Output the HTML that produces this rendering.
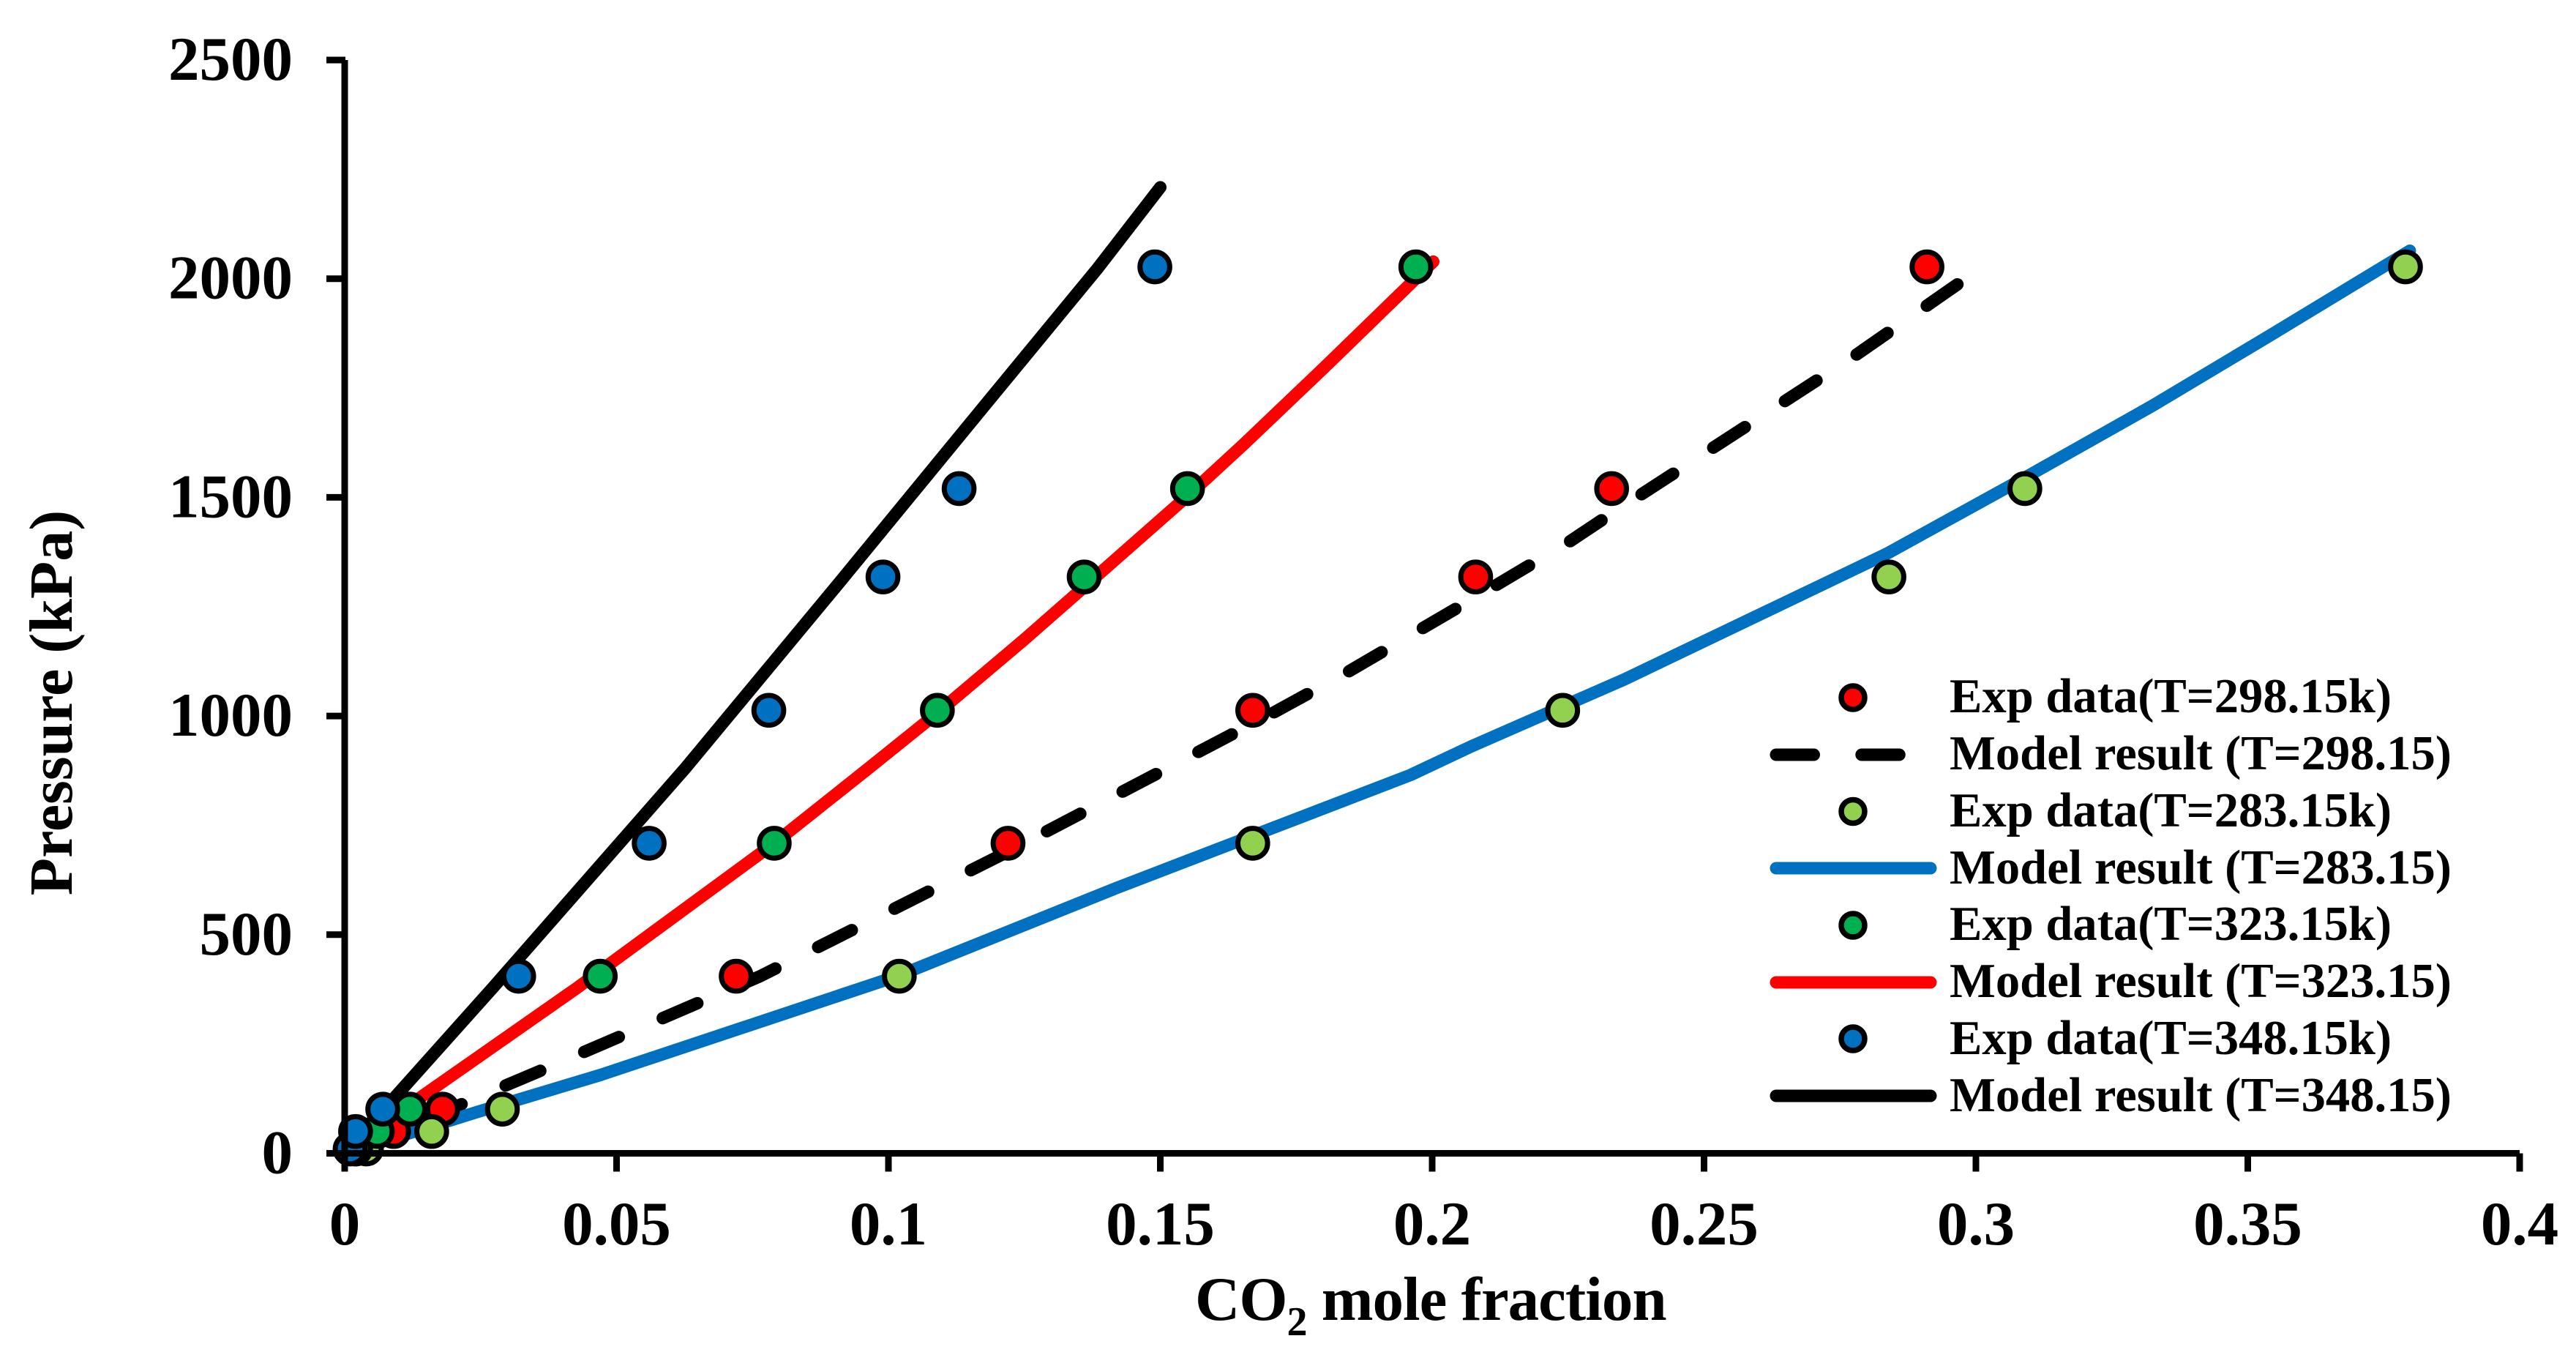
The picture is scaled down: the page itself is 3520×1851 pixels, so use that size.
<!DOCTYPE html>
<html>
<head>
<meta charset="utf-8">
<title>Pressure vs CO2 mole fraction</title>
<style>
html,body{margin:0;padding:0;background:#fff;}
svg{display:block;font-family:"Liberation Serif",serif;font-weight:bold;fill:#000;}
</style>
</head>
<body>
<svg id="chart" xmlns="http://www.w3.org/2000/svg" width="3520" height="1851" viewBox="0 0 3520 1851">
  <rect x="0" y="0" width="3520" height="1851" fill="#fff"/>
  <g id="model-lines"></g>
  <g id="markers"></g>
  <g id="axes"></g>
  <text transform="translate(98,960) rotate(-90)" text-anchor="middle" font-size="84">Pressure (kPa)</text>
  <text x="1633" y="1803" font-size="85" letter-spacing="-1">CO<tspan font-size="56" dy="21">2</tspan><tspan dy="-21"> mole fraction</tspan></text>
  <g id="legend" font-size="66.6">
    <circle cx="2532" cy="953" r="16" fill="#FF0000" stroke="#000" stroke-width="7.5"/>
    <text x="2664" y="973">Exp data(T=298.15k)</text>
    <line x1="2427" y1="1031" x2="2600" y2="1031" stroke="#000" stroke-width="17" stroke-linecap="round" stroke-dasharray="51.5 65.3"/>
    <text x="2664" y="1051">Model result (T=298.15)</text>
    <circle cx="2532" cy="1108.5" r="16" fill="#92D050" stroke="#000" stroke-width="7.5"/>
    <text x="2664" y="1129">Exp data(T=283.15k)</text>
    <line x1="2427" y1="1186" x2="2638" y2="1186" stroke="#0070C0" stroke-width="17" stroke-linecap="round"/>
    <text x="2664" y="1207">Model result (T=283.15)</text>
    <circle cx="2532" cy="1264" r="16" fill="#00B050" stroke="#000" stroke-width="7.5"/>
    <text x="2664" y="1284">Exp data(T=323.15k)</text>
    <line x1="2427" y1="1342" x2="2638" y2="1342" stroke="#FF0000" stroke-width="17" stroke-linecap="round"/>
    <text x="2664" y="1362">Model result (T=323.15)</text>
    <circle cx="2532" cy="1419" r="16" fill="#0070C0" stroke="#000" stroke-width="7.5"/>
    <text x="2664" y="1440">Exp data(T=348.15k)</text>
    <line x1="2427" y1="1497" x2="2638" y2="1497" stroke="#000" stroke-width="17" stroke-linecap="round"/>
    <text x="2664" y="1518">Model result (T=348.15)</text>
  </g>
</svg>
<script>
var xTicks = [0, 0.05, 0.1, 0.15, 0.2, 0.25, 0.3, 0.35, 0.4];
var xTickLabels = ["0", "0.05", "0.1", "0.15", "0.2", "0.25", "0.3", "0.35", "0.4"];
var yTicks = [0, 500, 1000, 1500, 2000, 2500];
var yTickLabels = ["0", "500", "1000", "1500", "2000", "2500"];

var expPressure = [10, 50, 101, 405, 709, 1013, 1318, 1520, 2027];
var exp298 = [0.002, 0.009, 0.018, 0.072, 0.122, 0.167, 0.208, 0.233, 0.291];
var exp283 = [0.004, 0.016, 0.029, 0.102, 0.167, 0.224, 0.284, 0.309, 0.379];
var exp323 = [0.002, 0.006, 0.012, 0.047, 0.079, 0.109, 0.136, 0.155, 0.197];
var exp348 = [0.001, 0.002, 0.007, 0.032, 0.056, 0.078, 0.099, 0.113, 0.149];

var model298X = [0, 0.0218, 0.0366, 0.0764, 0.122, 0.171, 0.1848, 0.1984, 0.212, 0.2254, 0.2312, 0.2781, 0.2966];
var model298P = [0, 114, 192, 405, 690, 1009, 1103, 1202, 1301, 1400, 1448, 1827, 1987];
var model283X = [0, 0.0245, 0.047, 0.1016, 0.142, 0.196, 0.2071, 0.2354, 0.2836, 0.309, 0.3324, 0.3538, 0.3798];
var model283P = [0, 95, 179, 405, 607, 865, 930, 1084, 1371, 1545, 1709, 1868, 2064];
var model323X = [0, 0.0143, 0.0427, 0.079, 0.0968, 0.109, 0.125, 0.136, 0.155, 0.1654, 0.1805, 0.2002];
var model323P = [0, 131, 378, 709, 885, 1007, 1175, 1295, 1503, 1622, 1801, 2039];
var model348X = [0, 0.0272, 0.0626, 0.0905, 0.1185, 0.1385, 0.15];
var model348P = [0, 378, 880, 1298, 1722, 2024, 2209];

var NS = "http://www.w3.org/2000/svg";
var X0 = 471, X1 = 3443, Y0 = 1575.5, Y1 = 82;
function sx(v) { return X0 + (v / 0.4) * (X1 - X0); }
function sy(v) { return Y0 - (v / 2500) * (Y0 - Y1); }
function make(tag, attrs, parent) {
  var el = document.createElementNS(NS, tag);
  for (var k in attrs) { el.setAttribute(k, attrs[k]); }
  parent.appendChild(el);
  return el;
}

var axes = document.getElementById("axes");
var yAxisLine = make("line", {x1: X0, y1: Y1, x2: X0, y2: Y0, stroke: "#000", "stroke-width": 9}, axes);


var xAxisLine = make("line", {x1: X0, y1: Y0, x2: X1, y2: Y0, stroke: "#000", "stroke-width": 9}, axes);



xTicks.forEach(function (t, i) {
  var tick = make("line", {x1: sx(t), y1: Y0, x2: sx(t), y2: Y0 + 25, stroke: "#000", "stroke-width": 9}, axes);
  
  
  var label = make("text", {x: sx(t), y: 1700, "text-anchor": "middle", "font-size": 85}, axes);
  
  
  label.textContent = xTickLabels[i];
});
yTicks.forEach(function (t, i) {
  var tick = make("line", {x1: X0 - 25, y1: sy(t), x2: X0 + 1, y2: sy(t), stroke: "#000", "stroke-width": 9}, axes);
  
  
  var label = make("text", {x: 400, y: sy(t) + 27, "text-anchor": "end", "font-size": 85}, axes);
  
  
  label.textContent = yTickLabels[i];
});

function drawLine(xs, ps, color, dash, offset, name) {
  var pts = xs.map(function (x, i) { return sx(x) + "," + sy(ps[i]); }).join(" ");
  var attrs = {points: pts, fill: "none", stroke: color, "stroke-width": 17, "stroke-linecap": "round", "stroke-linejoin": "round"};
  if (dash) {
    attrs["stroke-dasharray"] = dash;
    attrs["stroke-dashoffset"] = offset;
  }
  var line = make("polyline", attrs, document.getElementById("model-lines"));
  
  
}
drawLine(model298X, model298P, "#000000", "51.5 65.3", -5, "model-line-298");
drawLine(model283X, model283P, "#0070C0", null, 0, "model-line-283");
drawLine(model323X, model323P, "#FF0000", null, 0, "model-line-323");
drawLine(model348X, model348P, "#000000", null, 0, "model-line-348");

function drawMarkers(xs, color, name) {
  xs.forEach(function (x, i) {
    var m = make("circle", {cx: sx(x), cy: sy(expPressure[i]), r: 20.3, fill: color, stroke: "#000", "stroke-width": 7}, document.getElementById("markers"));
    
    
  });
}
drawMarkers(exp298, "#FF0000", "exp-point-298");
drawMarkers(exp283, "#92D050", "exp-point-283");
drawMarkers(exp323, "#00B050", "exp-point-323");
drawMarkers(exp348, "#0070C0", "exp-point-348");
</script>
</body>
</html>
